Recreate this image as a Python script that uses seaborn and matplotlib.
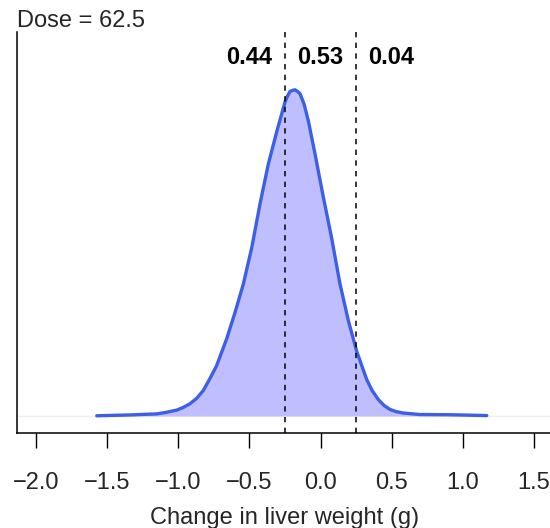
import matplotlib
matplotlib.use("Agg")
import matplotlib.pyplot as plt
import seaborn as sns
import pandas as pd

# Density curve
dens_x = [-1.575, -1.341, -1.153, -1.088, -1.012, -0.968, -0.919, -0.870, -0.825,
          -0.778, -0.731, -0.660, -0.602, -0.543, -0.484, -0.426, -0.367, -0.308,
          -0.250, -0.232, -0.215, -0.197, -0.180, -0.162, -0.144, -0.116, -0.086,
          -0.039, 0.020, 0.079, 0.137, 0.196, 0.255, 0.325, 0.363, 0.407, 0.447,
          0.489, 0.531, 0.583, 0.700, 0.912, 1.170]
dens_y = [0.001, 0.005, 0.010, 0.017, 0.028, 0.040, 0.058, 0.085, 0.121,
          0.178, 0.239, 0.367, 0.490, 0.626, 0.798, 1.005, 1.195, 1.348,
          1.488, 1.517, 1.538, 1.543, 1.546, 1.539, 1.527, 1.479, 1.400,
          1.243, 1.037, 0.841, 0.626, 0.452, 0.306, 0.173, 0.121, 0.078, 0.050,
          0.031, 0.021, 0.014, 0.007, 0.006, 0.002]

cutoffs = [-0.25, 0.25]
region_x = [-0.5, 0.0, 0.5]
region_labels = ["0.44", "0.53", "0.04"]
xtick_values = [-2.0, -1.5, -1.0, -0.5, 0.0, 0.5, 1.0, 1.5]
xtick_labels = ["\u22122.0", "\u22121.5", "\u22121.0", "\u22120.5", "0.0", "0.5", "1.0", "1.5"]
title = "Dose = 62.5"
xlabel = "Change in liver weight (g)"

sns.set_style("ticks")
plt.rcParams["font.family"] = ["Liberation Sans", "DejaVu Sans"]

W, H = 550, 528
fig = plt.figure(figsize=(W / 100, H / 100), dpi=100)
ax = fig.add_axes([16.5 / W, (H - 433) / H, (553.5 - 16.5) / W, (433 - 32) / H])

df = pd.DataFrame({"x": dens_x, "y": dens_y})
ax.axhline(0, color="#eeeeee", lw=1.0, zorder=0)
ax.fill_between(df["x"], df["y"], 0, color="#bfbfff", lw=0, zorder=1)
sns.lineplot(data=df, x="x", y="y", ax=ax, color="#3d5fe6", lw=2.4, zorder=3)

for c in cutoffs:
    ax.axvline(c, color="black", lw=1.1, ls=(0, (3.5, 3.5)), zorder=4)

for xv, lab in zip(region_x, region_labels):
    ax.text(xv, 1.697, lab, ha="center", va="center", fontsize=17,
            fontweight="bold", color="black")

ax.set_xlim(-2.14, 1.64)
ax.set_ylim(-0.0806, 1.820)
ax.set_xticks(xtick_values)
ax.set_xticklabels(xtick_labels, fontsize=17)
ax.set_yticks([])
ax.tick_params(axis="x", bottom=True, direction="out", length=11, width=1.0,
               pad=17, color="black")
ax.set_xlabel(xlabel, fontsize=17)
ax.xaxis.set_label_coords(0.5, (433 - 524) / 401)
ax.xaxis.label.set_va("baseline")
ax.set_ylabel("")
for s in ["top", "right"]:
    ax.spines[s].set_visible(False)
for s in ["left", "bottom"]:
    ax.spines[s].set_color("black")
    ax.spines[s].set_linewidth(1.1)

fig.text(17 / W, (H - 27.3) / H, title, ha="left", va="baseline", fontsize=17)

fig.savefig("out.png", dpi=100)
